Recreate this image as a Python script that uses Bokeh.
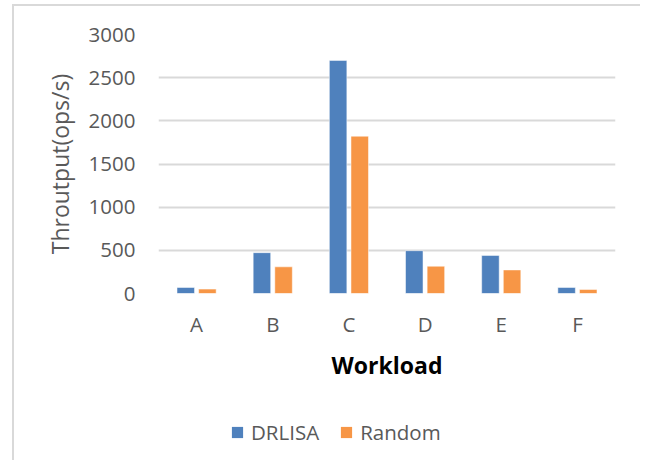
from bokeh.plotting import figure
from bokeh.layouts import column
from bokeh.models import ColumnDataSource, Range1d, FactorRange, Legend, LegendItem
from bokeh.transform import dodge
from bokeh.embed import file_html
from bokeh.resources import INLINE

workloads = ["A", "B", "C", "D", "E", "F"]
drlisa = [70, 473, 2700, 496, 441, 70]
random_vals = [51, 309, 1822, 316, 273, 47]
y_ticks = [0, 500, 1000, 1500, 2000, 2500, 3000]
series_names = ["DRLISA", "Random"]
series_colors = ["#4F81BD", "#F79646"]

FONT = "Open Sans"
GRAY = "#595959"
BORDER = "2px solid #D9D9D9"

src = ColumnDataSource(dict(w=workloads, drlisa=drlisa, rnd=random_vals))

p = figure(
    width=628, height=400,
    x_range=FactorRange(*workloads, range_padding=0),
    y_range=Range1d(0, 3000),
    output_backend="svg", toolbar_location=None,
    min_border_left=144, min_border_right=27, min_border_top=28, min_border_bottom=113,
    styles={"border-left": BORDER, "border-top": BORDER},
)
p.outline_line_color = None
p.background_fill_color = "white"
p.border_fill_color = "white"

p.vbar(x=dodge("w", -0.142, range=p.x_range), top="drlisa", width=0.23, source=src,
       fill_color=series_colors[0], line_color="white", line_alpha=0.5, line_width=1)
p.vbar(x=dodge("w", 0.142, range=p.x_range), top="rnd", width=0.23, source=src,
       fill_color=series_colors[1], line_color="white", line_alpha=0.5, line_width=1)

# grid
p.xgrid.grid_line_color = None
p.ygrid.grid_line_color = "#D9D9D9"
p.ygrid.grid_line_width = 2
p.yaxis.ticker = y_ticks

# y axis
p.yaxis.axis_line_color = None
p.yaxis.major_tick_line_color = None
p.yaxis.minor_tick_line_color = None
p.yaxis.major_tick_out = 0
p.yaxis.major_label_standoff = 23
p.yaxis.major_label_text_font = FONT
p.yaxis.major_label_text_font_size = "20.5px"
p.yaxis.major_label_text_color = GRAY
p.yaxis.axis_label = "Throutput(ops/s)"
p.yaxis.axis_label_text_font = FONT
p.yaxis.axis_label_text_font_size = "23px"
p.yaxis.axis_label_text_font_style = "normal"
p.yaxis.axis_label_text_color = GRAY
p.yaxis.axis_label_standoff = 10

# x axis
p.xaxis.axis_line_color = None
p.xaxis.major_tick_line_color = None
p.xaxis.major_tick_out = 0
p.xaxis.major_label_standoff = 16
p.xaxis.major_label_text_font = FONT
p.xaxis.major_label_text_font_size = "20.5px"
p.xaxis.major_label_text_color = GRAY
p.xaxis.axis_label = "Workload"
p.xaxis.axis_label_text_font = FONT
p.xaxis.axis_label_text_font_size = "23px"
p.xaxis.axis_label_text_font_style = "bold"
p.xaxis.axis_label_text_color = "#000000"
p.xaxis.axis_label_standoff = 8

# legend strip below the chart (series renderers kept hidden there)
q = figure(
    width=628, height=56,
    x_range=FactorRange(*workloads, range_padding=0), y_range=Range1d(0, 3000),
    output_backend="svg", toolbar_location=None,
    min_border_left=0, min_border_right=0, min_border_top=0, min_border_bottom=0,
    styles={"border-left": BORDER},
)
q.axis.visible = False
q.grid.grid_line_color = None
q.outline_line_color = None
q.border_fill_color = "white"
q.background_fill_color = "white"
rr = [
    q.vbar(x="w", top="drlisa", width=0.2, source=src, fill_color=series_colors[0],
           line_color=None, visible=False),
    q.vbar(x="w", top="rnd", width=0.2, source=src, fill_color=series_colors[1],
           line_color=None, visible=False),
]

legend = Legend(
    items=[LegendItem(label=n, renderers=[r]) for n, r in zip(series_names, rr)],
    orientation="horizontal", location=(72, 14),
    glyph_width=14, glyph_height=14, label_standoff=7, spacing=20,
    padding=0, margin=0, border_line_color=None, background_fill_alpha=0,
    inactive_fill_alpha=0,
    label_text_font=FONT, label_text_font_size="20.5px", label_text_color=GRAY,
)
q.add_layout(legend, "center")

layout = column(p, q, spacing=0, styles={"margin-top": "4px", "margin-left": "12px"})

open("out.html", "w").write(file_html(layout, INLINE))
